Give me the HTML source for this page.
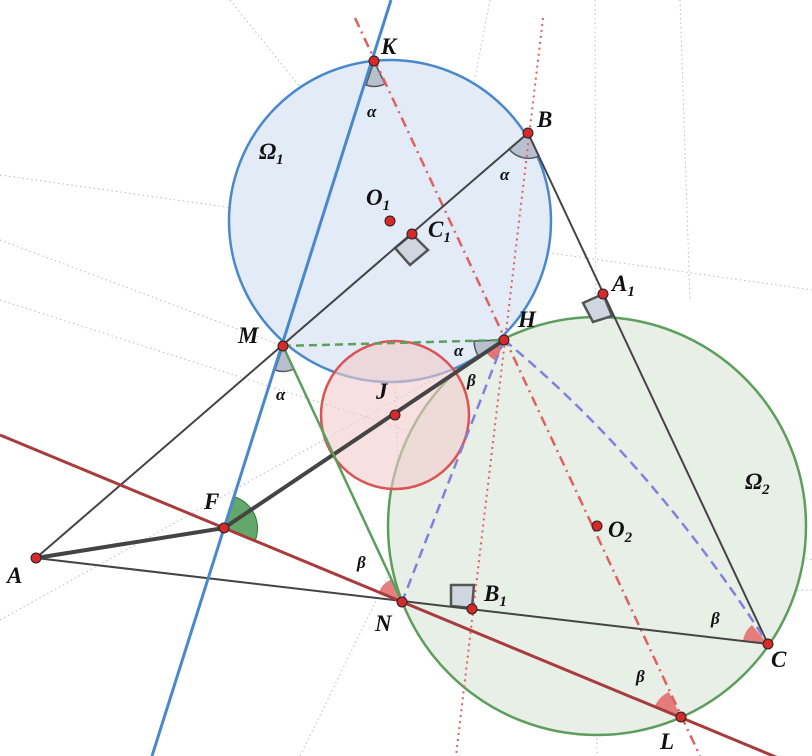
<!DOCTYPE html>
<html><head><meta charset="utf-8"><style>
html,body{margin:0;padding:0;background:#fff;}
svg{display:block;}
text{font-family:"Liberation Serif",serif;font-style:italic;font-weight:bold;fill:#111;}
</style></head><body>
<svg width="812" height="756" viewBox="0 0 812 756" xmlns="http://www.w3.org/2000/svg">
<g stroke="#bbb" stroke-width="1" stroke-dasharray="1.5,3" fill="none">
<line x1="0" y1="175" x2="812" y2="290"/>
<line x1="0" y1="240" x2="283" y2="346"/>
<line x1="0" y1="300" x2="812" y2="560"/>
<line x1="0" y1="620" x2="504" y2="340"/>
<line x1="390" y1="221" x2="402" y2="602"/>
<line x1="300" y1="756" x2="504" y2="340"/>
<line x1="595" y1="0" x2="597" y2="756"/>
<line x1="680" y1="0" x2="690" y2="300"/>
<line x1="812" y1="590" x2="402" y2="602"/>
<line x1="230" y1="0" x2="504" y2="340"/>
<line x1="490" y1="0" x2="436" y2="280"/>
</g>
<circle cx="597" cy="526" r="209" fill="#e8efe6" stroke="#5c9e5c" stroke-width="2.5"/>
<circle cx="390" cy="221" r="161" fill="#e2ebf6" fill-opacity="0.95" stroke="#4a88cc" stroke-width="2.5"/>
<circle cx="395" cy="415" r="74" fill="#f2cccc" fill-opacity="0.6" stroke="#d95555" stroke-width="2.5"/>
<g fill="#d0d6e0" stroke="#555" stroke-width="2.5">
<polygon points="412,234 395,248 410,265 428,250"/>
<polygon points="603,294 583,303 593,322 612,316"/>
<polygon points="451,585 474,585 472,608 451,606"/>
</g>
<path d="M224,528 L235,497 A33,33 0 0,1 255,541 Z" fill="#2e8b3a" fill-opacity="0.75" stroke="#2e7b33"/>
<path d="M402,602 L392,579 A25,25 0 0,0 379,592 Z" fill="#e06060" fill-opacity="0.8"/>
<path d="M768,644 L752,625 A25,25 0 0,0 743,641 Z" fill="#e06060" fill-opacity="0.8"/>
<path d="M681,717 L669,692 A28,28 0 0,0 655,706 Z" fill="#e06060" fill-opacity="0.8"/>
<path d="M504,340 L486,352 A22,22 0 0,0 497,361 Z" fill="#e06060" fill-opacity="0.85"/>
<path d="M504,340 L474,341 A30,30 0 0,0 479,357 Z" fill="#b8c0d0" stroke="#555" stroke-width="1.5"/>
<path d="M374,61 L366,85 A25,25 0 0,0 385,84 Z" fill="#b8c0d0" stroke="#555" stroke-width="1.5"/>
<path d="M528,133 L509,149 A25,25 0 0,0 539,156 Z" fill="#b8c0d0" stroke="#555" stroke-width="1.5"/>
<path d="M283,346 L275,370 A25,25 0 0,0 294,369 Z" fill="#b8c0d0" stroke="#555" stroke-width="1.5"/>
<line x1="543" y1="18" x2="456" y2="756" stroke="#e06060" stroke-width="2" stroke-dasharray="2,4"/>
<line x1="355" y1="18" x2="700" y2="756" stroke="#e06060" stroke-width="2.5" stroke-dasharray="10,5,2,5"/>
<g stroke="#444" stroke-width="2" fill="none">
<line x1="36" y1="558" x2="528" y2="133"/>
<line x1="36" y1="558" x2="768" y2="644"/>
<line x1="528" y1="133" x2="768" y2="644"/>
</g>
<line x1="391" y1="0" x2="152" y2="756" stroke="#4a88cc" stroke-width="3"/>
<line x1="0" y1="435" x2="812" y2="772" stroke="#a83c3c" stroke-width="3"/>
<line x1="36" y1="558" x2="224" y2="528" stroke="#444" stroke-width="4"/>
<line x1="224" y1="528" x2="504" y2="340" stroke="#444" stroke-width="4"/>
<line x1="283" y1="346" x2="402" y2="602" stroke="#5c9e5c" stroke-width="2.5"/>
<line x1="283" y1="346" x2="504" y2="340" stroke="#5c9e5c" stroke-width="2.5" stroke-dasharray="8,5"/>
<g stroke="#8080e0" stroke-width="2.5" stroke-dasharray="10,6" fill="none">
<line x1="504" y1="340" x2="402" y2="602"/>
<path d="M504,340 Q650,460 768,644"/>
</g>
<g fill="#d62a2a" stroke="#222" stroke-width="1">
<circle cx="374" cy="61" r="5"/><circle cx="528" cy="133" r="5"/>
<circle cx="390" cy="221" r="5"/><circle cx="412" cy="234" r="5"/>
<circle cx="603" cy="294" r="5"/><circle cx="504" cy="340" r="5"/>
<circle cx="283" cy="346" r="5"/><circle cx="395" cy="415" r="5"/>
<circle cx="224" cy="528" r="5"/><circle cx="36" cy="558" r="5"/>
<circle cx="402" cy="602" r="5"/><circle cx="472" cy="609" r="5"/>
<circle cx="597" cy="526" r="5"/><circle cx="768" cy="644" r="5"/>
<circle cx="681" cy="717" r="5"/>
</g>
<g font-size="23">
<text x="381" y="54">K</text>
<text x="537" y="127">B</text>
<text x="366" y="205">O<tspan font-size="15" dy="5">1</tspan></text>
<text x="428" y="237">C<tspan font-size="15" dy="5">1</tspan></text>
<text x="612" y="291">A<tspan font-size="15" dy="5">1</tspan></text>
<text x="518" y="327">H</text>
<text x="238" y="343">M</text>
<text x="376" y="399">J</text>
<text x="204" y="509">F</text>
<text x="7" y="583">A</text>
<text x="375" y="631">N</text>
<text x="484" y="601">B<tspan font-size="15" dy="5">1</tspan></text>
<text x="608" y="537">O<tspan font-size="15" dy="5">2</tspan></text>
<text x="771" y="667">C</text>
<text x="660" y="749">L</text>
<text x="259" y="159">Ω<tspan font-size="15" dy="5">1</tspan></text>
<text x="745" y="489">Ω<tspan font-size="15" dy="5">2</tspan></text>
</g>
<g font-size="17">
<text x="367" y="117">α</text>
<text x="500" y="180">α</text>
<text x="454" y="356">α</text>
<text x="276" y="400">α</text>
<text x="467" y="386">β</text>
<text x="357" y="568">β</text>
<text x="711" y="624">β</text>
<text x="636" y="682">β</text>
</g>
</svg>
</body></html>
